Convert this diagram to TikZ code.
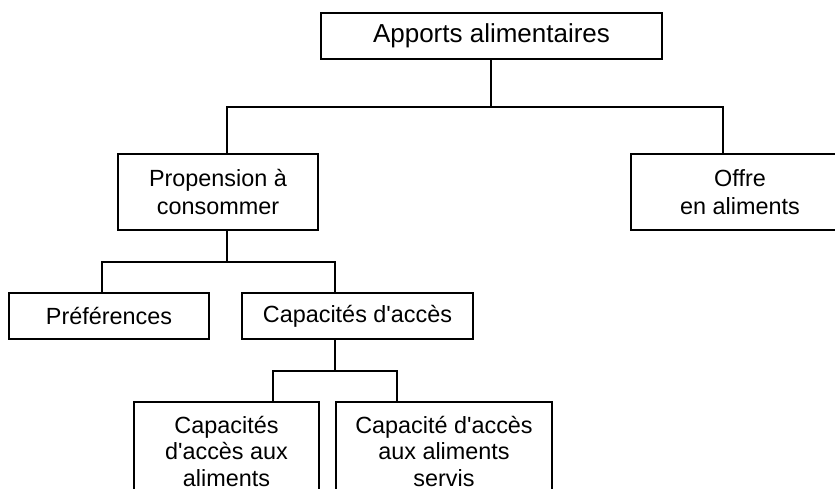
\documentclass[tikz,border=0pt]{standalone}
\usepackage{fontspec}
\setmainfont{Liberation Sans}[Ligatures=TeXOff]
\begin{document}
\begin{tikzpicture}[x=1pt,y=-1pt,
  box/.style={draw,line width=1.3pt,inner sep=0pt,align=center,
    font=\fontsize{23.4}{26.5}\selectfont},
  link/.style={line width=1.3pt}]
\useasboundingbox (0,0) rectangle (835,488);
\clip (0,0) rectangle (835,488);

% boxes
\node[box,minimum width=341pt,minimum height=46pt,
  font=\fontsize{26}{30}\selectfont] (top) at (491.5,36) {Apports alimentaires};
\node[box,minimum width=200pt,minimum height=76pt,
  font=\fontsize{23.4}{27.5}\selectfont] (prop) at (218,192)
  {Propension à\\consommer};
\node[box,minimum width=218pt,minimum height=76pt,
  font=\fontsize{23.4}{27.5}\selectfont] (offre) at (740,192)
  {Offre\\en aliments};
\node[box,minimum width=200pt,minimum height=46pt] (pref) at (109,316) {Préférences};
\node[box,minimum width=231pt,minimum height=46pt] (capa) at (357.5,316) {Capacités d'accès};
\node[box,minimum width=185pt,minimum height=98pt] (acces) at (226.5,451)
  {Capacités\\d'accès aux\\aliments};
\node[box,minimum width=216pt,minimum height=98pt] (servis) at (444,451)
  {Capacité d'accès\\aux aliments\\servis};

% junction points of the tree
\coordinate (j1) at (491,107);
\coordinate (p1) at (227,107);
\coordinate (o1) at (723,107);
\coordinate (j2) at (227,262);
\coordinate (f2) at (102,262);
\coordinate (c2) at (335,262);
\coordinate (j3) at (335,371);
\coordinate (a3) at (273,371);
\coordinate (s3) at (397,371);

% connectors
\draw[link] (top.south -| j1) -- (j1);
\draw[link] (p1 |- prop.north) -- (p1) -- (o1) -- (o1 |- offre.north);
\draw[link] (prop.south -| j2) -- (j2);
\draw[link] (f2 |- pref.north) -- (f2) -- (c2) -- (c2 |- capa.north);
\draw[link] (capa.south -| j3) -- (j3);
\draw[link] (a3 |- acces.north) -- (a3) -- (s3) -- (s3 |- servis.north);
\end{tikzpicture}
\end{document}
